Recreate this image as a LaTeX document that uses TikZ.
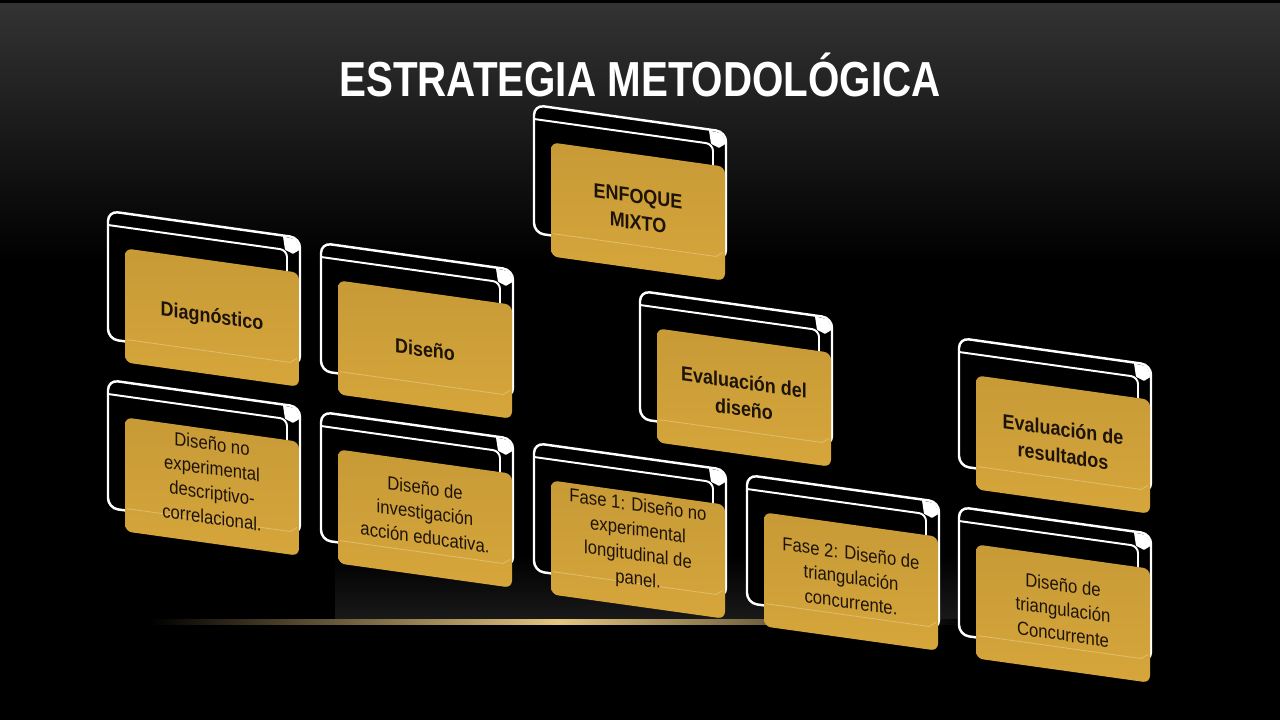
\documentclass[tikz,border=0pt]{standalone}
\usepackage{fontspec}
\setmainfont{Liberation Sans}[FakeStretch=0.88]
\newfontfamily\titlefont{Liberation Sans}[FakeStretch=0.82]
\definecolor{oro}{HTML}{D6A63B}
\definecolor{tinta}{HTML}{1E1308}
\newcommand{\cabeza}{\fontsize{29}{38}\selectfont\bfseries}
\newcommand{\cuerpo}{\fontsize{27}{35}\selectfont}
% #1 name, #2 #3 top left of the back card, #4 font, #5 text, #6 text height
\newcommand{\caja}[6]{%
  \begin{scope}[shift={(#2,#3)},yslant=-0.14]
    \draw[marco,fill=black] (0,0) rectangle (192,128);
    \draw[white,line width=2.8pt,rounded corners=0.35cm] (1,14) -- (179,14) -- (179,50);
    \fill[white,rounded corners=1pt] (175,1) -- (187,2) -- (193,11) -- (185,17) -- (177,14) -- cycle;
    \node[tarjeta] (#1) at (104,92) {};
    \draw[oro!75!white,line width=1.2pt] (19,126) -- (182,126) -- (189,121);
    \node[letra,font=#4] (#1-t) at (104,#6) {#5};
  \end{scope}}

\begin{document}
\begin{tikzpicture}[x=0.05cm,y=-0.05cm,
  marco/.style={white,line width=3.5pt,rounded corners=0.5cm},
  tarjeta/.style={rectangle,rounded corners=0.35cm,minimum width=8.7cm,minimum height=5.7cm,
    top color=oro!93!black,bottom color=oro,transform shape,inner sep=0pt},
  letra/.style={text=tinta,align=center,transform shape,inner sep=0pt}]
  \useasboundingbox (0,0) rectangle (1280,720);
  \fill[black] (0,0) rectangle (1280,720);
  \shade[top color=black!80!white,bottom color=black] (0,3) rectangle (1280,260);
  \shade[top color=black,bottom color=black!90!white] (335,555) rectangle (1000,620);
  \shade[left color=black,right color=black,middle color=oro!65!white] (150,619) rectangle (965,624);

  \node[text=white,font=\titlefont\bfseries\fontsize{70}{70}\selectfont,anchor=base] (titulo) at (640,96) {ESTRATEGIA METODOLÓGICA};

  \caja{enfoque}{534}{105}{\cabeza}{ENFOQUE\\MIXTO}{90}
  \caja{diag}{108}{211}{\cabeza}{Diagnóstico}{92}
  \caja{diseno}{321}{243}{\cabeza}{Diseño}{92}
  \caja{evaldis}{640}{291}{\cabeza}{Evaluación del\\diseño}{90}
  \caja{evalres}{959}{338}{\cabeza}{Evaluación de\\resultados}{90}
  \caja{noexp}{108}{380}{\cuerpo}{Diseño no\\experimental\\descriptivo-\\correlacional.}{86}
  \caja{accion}{321}{412}{\cuerpo}{Diseño de\\investigación\\acción educativa.}{86}
  \caja{fase1}{534}{443}{\cuerpo}{Fase 1: Diseño no\\experimental\\longitudinal de\\panel.}{86}
  \caja{fase2}{747}{475}{\cuerpo}{Fase 2: Diseño de\\triangulación\\concurrente.}{88}
  \caja{triang}{959}{507}{\cuerpo}{Diseño de\\triangulación\\Concurrente}{88}
\end{tikzpicture}
\end{document}
